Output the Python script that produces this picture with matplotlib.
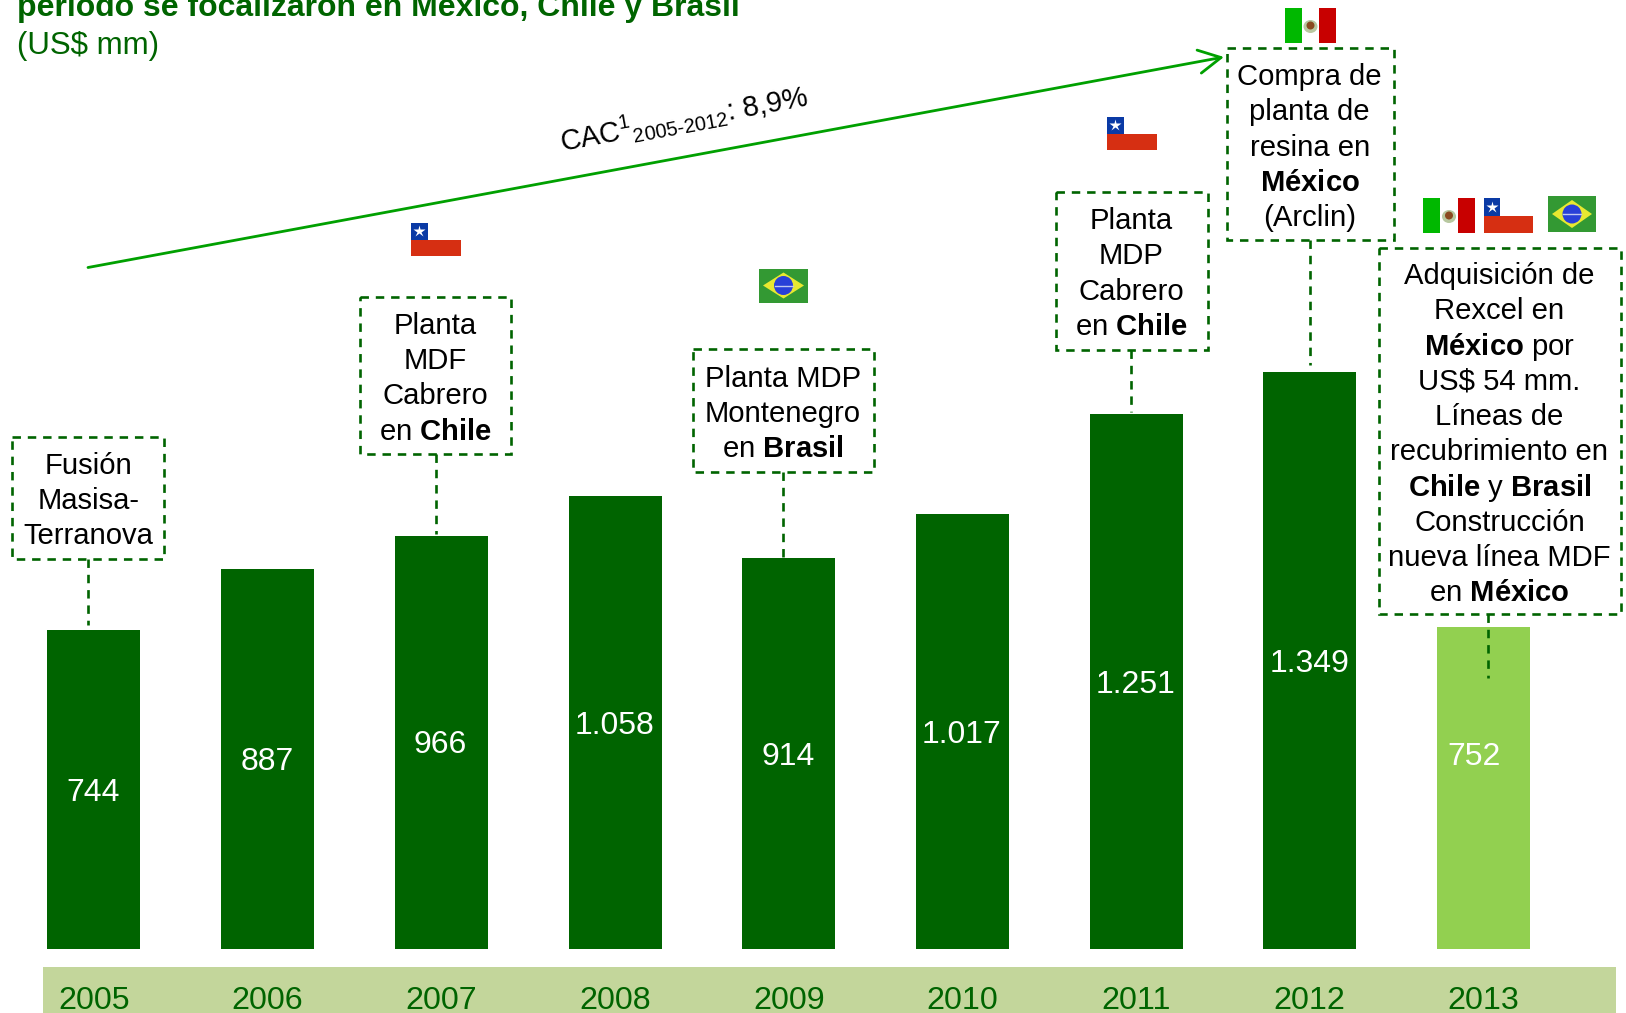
import matplotlib
matplotlib.use("Agg")
import matplotlib.pyplot as plt
from matplotlib.patches import Rectangle, Polygon, Ellipse

plt.rcParams['font.family'] = ['Liberation Sans', 'DejaVu Sans']
plt.rcParams['mathtext.fontset'] = 'custom'
plt.rcParams['mathtext.rm'] = 'Liberation Sans'
plt.rcParams['mathtext.it'] = 'Liberation Sans:italic'
plt.rcParams['mathtext.bf'] = 'Liberation Sans:bold'
plt.rcParams['mathtext.default'] = 'rm'

years = ['2005', '2006', '2007', '2008', '2009', '2010', '2011', '2012', '2013']
values = [744, 887, 966, 1058, 914, 1017, 1251, 1349, 752]
value_labels = ['744', '887', '966', '1.058', '914', '1.017', '1.251', '1.349', '752']

DARK = '#006400'
LIGHT = '#92D050'
S = 1626 / 1568
W, H = 1626, 1013
PX_PER_UNIT = 0.4275
BASE = 948.5

fig = plt.figure(figsize=(W / 100, H / 100), dpi=100, facecolor='white')

# background / overlay in pixel coordinates
bg = fig.add_axes([0, 0, 1, 1], zorder=0)
ov = fig.add_axes([0, 0, 1, 1], zorder=2)
for a in (bg, ov):
    a.set_xlim(0, W)
    a.set_ylim(H, 0)
    a.axis('off')
    a.patch.set_alpha(0)

bg.add_patch(Rectangle((43, 967), 1573, 46, fc='#C3D69B', ec='none'))

# bars
ax = fig.add_axes([0, 1 - BASE / H, 1, BASE / H], zorder=1)
ax.patch.set_alpha(0)
ax.set_xlim(-93.9 / 173.7, (W - 93.9) / 173.7)
ax.set_ylim(0, BASE / PX_PER_UNIT)
colors = [DARK] * 8 + [LIGHT]
bars = ax.bar(range(len(years)), values, width=93 / 173.7, color=colors)
for i, (v, lab) in enumerate(zip(values, value_labels)):
    # the 2013 label sits higher and to the left of its bar centre in the reference
    dx, dy = (-6.5, 22.5) if i == 8 else (-0.5, -2.5)
    ax.annotate(lab, xy=(i, v / 2), xytext=(dx, dy), textcoords='offset points',
                ha='center', va='center', color='white', fontsize=23)
for s in ax.spines.values():
    s.set_visible(False)
ax.set_yticks([])
ax.set_xticks(range(len(years)))
ax.set_xticklabels(years, fontsize=23.2, color=DARK)
ax.tick_params(axis='x', length=0, pad=27)

# title (cropped by the top edge)
ov.text(17, 16, 'período se focalizaron en México, Chile y Brasil', fontsize=23,
        fontweight='bold', color=DARK, va='baseline', clip_on=False)
ov.text(17, 54, '(US$ mm)', fontsize=22.5, color=DARK, va='baseline')

# trend arrow
ov.annotate('', xy=(1224, 57), xytext=(88, 267.5),
            arrowprops=dict(arrowstyle='->,head_length=0.8,head_width=0.42', color='#00A000',
                            lw=2, mutation_scale=20, shrinkA=0, shrinkB=0))
ov.text(686, 128, r'CAC$^{1}{}_{\mathrm{2005\text{-}2012}}$: 8,9%', fontsize=20.6, rotation=10.5,
        rotation_mode='anchor', ha='center', va='baseline')


def box(x0, y0, x1, y1):
    ov.add_patch(Rectangle((x0, y0), x1 - x0, y1 - y0, fc='none', ec=DARK, lw=1.9,
                           ls=(0, (3.2, 2.6))))


def conn(x, y0, y1):
    ov.plot([x, x], [y0, y1], color=DARK, lw=1.9, ls=(0, (3.2, 2.6)))


def lines(cx, centers, rows):
    for c, r in zip(centers, rows):
        ov.text(cx * S, (c + 10) * S, r, fontsize=21.1, ha='center', va='baseline', color='black')


box(12.4, 437, 164, 559)
conn(88, 559, 625)
lines(85, [447, 481, 515], ['Fusión', 'Masisa-', 'Terranova'])

box(360, 296.5, 511, 454)
conn(435.6, 454, 534)
lines(420, [312, 346, 380, 414], ['Planta', 'MDF', 'Cabrero', r'en $\mathbf{Chile}$'])

box(692.5, 349, 874, 472)
conn(783, 472, 558)
lines(755, [363, 397, 431], ['Planta MDP', 'Montenegro', r'en $\mathbf{Brasil}$'])

box(1056, 192, 1208, 350)
conn(1131, 350, 412)
lines(1091, [211, 245, 279, 313], ['Planta', 'MDP', 'Cabrero', r'en $\mathbf{Chile}$'])

box(1227, 48, 1394, 240)
conn(1310, 240, 365)
lines(1263, [72, 106, 140, 174, 208],
      ['Compra de', 'planta de', 'resina en', r'$\mathbf{México}$', '(Arclin)'])

box(1379, 248, 1621, 614)
conn(1488, 614, 678)
lines(1446, [264, 298, 332, 366, 400, 434, 468, 502, 536, 570],
      ['Adquisición de', 'Rexcel en', r'$\mathbf{México}$ por', 'US\\$ 54 mm.', 'Líneas de',
       'recubrimiento en', r'$\mathbf{Chile}$ y $\mathbf{Brasil}$', 'Construcción',
       'nueva línea MDF', r'en $\mathbf{México}$'])


def flag_chile(x, y, w=50, h=34):
    ov.add_patch(Rectangle((x, y + h / 2), w, h / 2, fc='#D62F12', ec='none'))
    ov.add_patch(Rectangle((x, y), w / 3, h / 2, fc='#0A3AA5', ec='none'))
    ov.plot([x + w / 6], [y + h / 4], marker='*', ms=9, color='white', mec='none')


def flag_mexico(x, y, w=52, h=35):
    ov.add_patch(Rectangle((x, y), w / 3, h, fc='#00B800', ec='none'))
    ov.add_patch(Rectangle((x + 2 * w / 3, y), w / 3, h, fc='#C80000', ec='none'))
    cx, cy = x + w / 2, y + h / 2
    ov.add_patch(Ellipse((cx, cy + 1), 14, 13, fc='#B8C8A0', ec='none'))
    ov.add_patch(Ellipse((cx, cy), 8, 8, fc='#8A4A20', ec='none'))


def flag_brazil(x, y, w=48, h=36):
    ov.add_patch(Rectangle((x, y), w, h, fc='#339933', ec='none'))
    ov.add_patch(Polygon([(x + 4, y + h / 2), (x + w / 2, y + 4), (x + w - 4, y + h / 2), (x + w / 2, y + h - 4)],
                         fc='#E8E830', ec='none'))
    ov.add_patch(Ellipse((x + w / 2, y + h / 2), 19, 19, fc='#2840D8', ec='none'))
    ov.plot([x + w / 2 - 9, x + w / 2 + 9], [y + h / 2, y + h / 2], color='#C0C8F0', lw=1)


flag_chile(411, 223, 50, 33)
flag_brazil(759, 268.5, 49, 34)
flag_chile(1107, 117, 50, 33)
flag_mexico(1285, 8, 51, 35)
flag_mexico(1423, 198, 52, 35)
flag_chile(1484, 198, 49, 35)
flag_brazil(1548, 196, 48, 36)

fig.savefig('out.png', dpi=100, facecolor='white')
